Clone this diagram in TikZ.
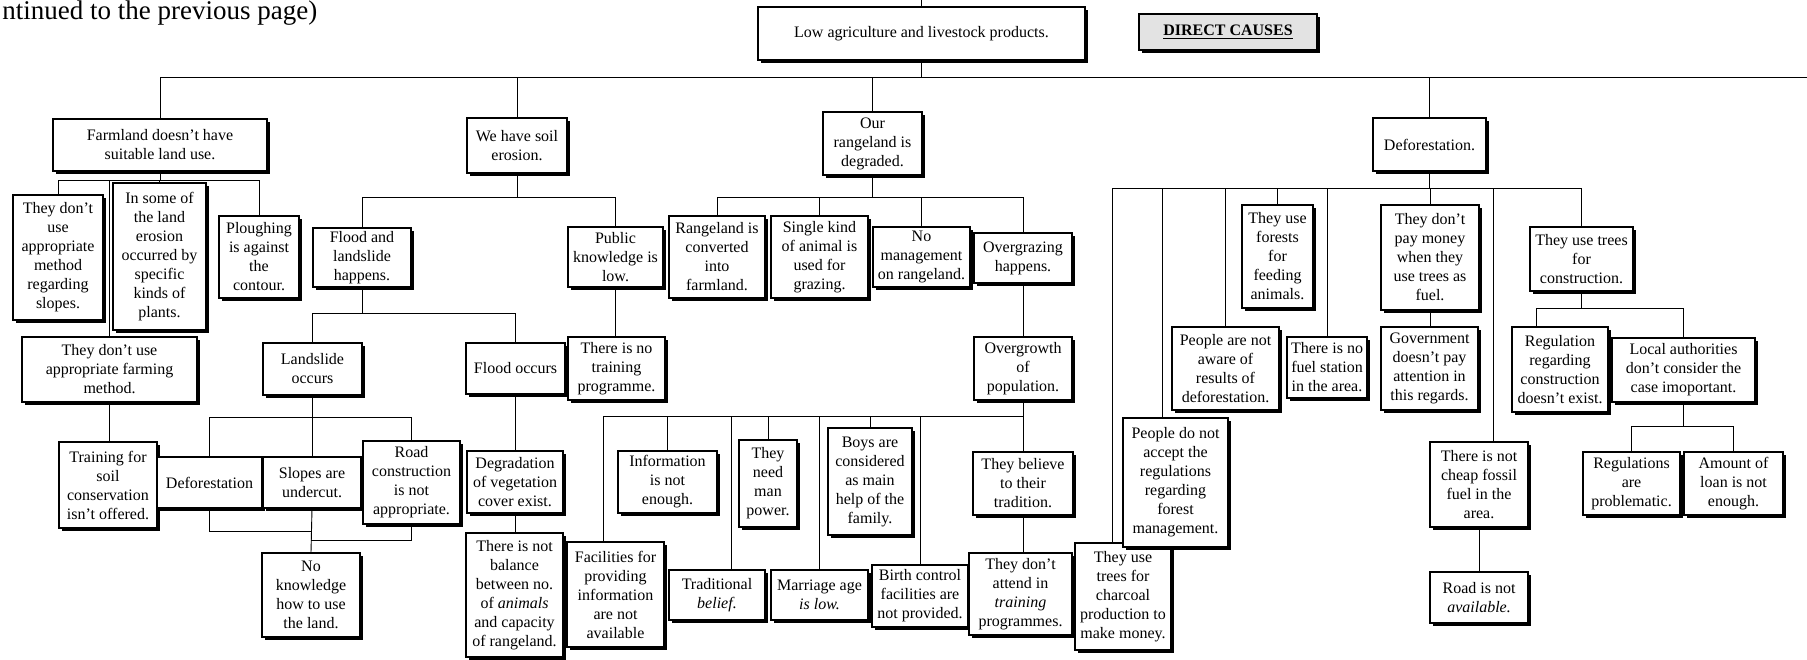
\documentclass[tikz,border=0pt]{standalone}
\usepackage{fontspec}
\setmainfont{Liberation Serif}
\usetikzlibrary{shadows,backgrounds}
\newcommand\fs{\fontsize{8pt}{9.5pt}\selectfont}
\tikzset{
  box/.style={draw, line width=0.6pt, fill=white, align=center, inner sep=0pt, font=\fs,
    drop shadow={shadow xshift=1.5pt, shadow yshift=-1.5pt, fill=black, opacity=1}},
  ln/.style={line width=0.45pt},
}
\newcommand\bx[6]{%
  \pgfmathsetmacro\bxw{(#4-#2)*0.5}%
  \pgfmathsetmacro\bxh{(#5-#3)*0.5}%
  \node[box, minimum width=\bxw pt, minimum height=\bxh pt] (#1) at ({(#2+#4)/2},{(#3+#5)/2}) {#6};}
\begin{document}
\begin{tikzpicture}[x=0.5pt,y=-0.5pt]
\useasboundingbox (0,0) rectangle (1807,659);
\node[anchor=base west, inner sep=0pt, font=\fontsize{13.5pt}{16pt}\selectfont] (hdr) at (2,19) {ntinued to the previous page)};
% level y coordinates
\coordinate (cont) at (921,0);
\coordinate (busR) at (1807,77);
\coordinate (yF) at (0,180);
\coordinate (yS) at (0,197);
\coordinate (yFL) at (0,313);
\coordinate (yL) at (0,417);
\coordinate (yB1) at (0,531);
\coordinate (yB2) at (0,540);
\coordinate (yO) at (0,416);
\coordinate (yD) at (0,188);
\coordinate (yC) at (0,308);
\coordinate (yLo) at (0,426);
% boxes
\bx{top}{758}{7}{1085}{60}{Low agriculture and livestock products.}
\node[draw, line width=0.6pt, fill=gray!22, inner sep=0pt, minimum width=89pt, minimum height=18pt,
  font=\fs\bfseries, drop shadow={shadow xshift=1.5pt, shadow yshift=-1.5pt, fill=black, opacity=1}]
  (dc) at (1228,32) {\underline{DIRECT CAUSES}};
\bx{farm}{53}{119}{267}{171}{Farmland doesn't have\\suitable land use.}
\bx{slopesA}{13}{195}{103}{320}{They don't\\use\\appropriate\\method\\regarding\\slopes.}
\bx{insome}{113}{183}{206}{330}{In some of\\the land\\erosion\\occurred by\\specific\\kinds of\\plants.}
\bx{plough}{219}{216}{299}{298}{Ploughing\\is against\\the\\contour.}
\bx{farming}{22}{337}{197}{402}{They don't use\\appropriate farming\\method.}
\bx{training}{59}{442}{157}{528}{Training for\\soil\\conservation\\isn't offered.}
\bx{soil}{467}{118}{567}{173}{We have soil\\erosion.}
\bx{floodls}{313}{228}{411}{287}{Flood and\\landslide\\happens.}
\bx{landslide}{263}{343}{362}{395}{Landslide\\occurs}
\bx{defo}{157}{457}{262}{508}{Deforestation}
\bx{slopes}{263}{457}{361}{508}{Slopes are\\undercut.}
\bx{road}{363}{441}{460}{524}{Road\\construction\\is not\\appropriate.}
\bx{noknow}{262}{553}{360}{637}{No\\knowledge\\how to use\\the land.}
\bx{public}{568}{227}{663}{287}{Public\\knowledge is\\low.}
\bx{notrain}{568}{337}{665}{400}{There is no\\training\\programme.}
\bx{flood}{466}{343}{565}{394}{Flood occurs}
\bx{degrad}{467}{451}{563}{513}{Degradation\\of vegetation\\cover exist.}
\bx{balance}{466}{533}{563}{657}{There is not\\balance\\between no.\\of \textit{animals}\\and capacity\\of rangeland.}
\bx{range}{823}{112}{922}{175}{Our\\rangeland is\\degraded.}
\bx{conv}{669}{216}{765}{298}{Rangeland is\\converted\\into\\farmland.}
\bx{single}{771}{216}{868}{298}{Single kind\\of animal is\\used for\\grazing.}
\bx{noman}{873}{227}{970}{287}{No\\management\\on rangeland.}
\bx{overgraz}{974}{233}{1072}{283}{Overgrazing\\happens.}
\bx{overgrow}{974}{337}{1072}{400}{Overgrowth\\of\\population.}
\bx{fac}{567}{542}{664}{647}{Facilities for\\providing\\information\\are not\\available}
\bx{info}{618}{451}{717}{513}{Information\\is not\\enough.}
\bx{trad}{669}{570}{765}{620}{Traditional\\\textit{belief.}}
\bx{manp}{739}{440}{797}{527}{They\\need\\man\\power.}
\bx{marr}{771}{570}{868}{620}{Marriage age\\\textit{is low.}}
\bx{boys}{828}{428}{912}{535}{Boys are\\considered\\as main\\help of the\\family.}
\bx{birth}{872}{565}{968}{627}{Birth control\\facilities are\\not provided.}
\bx{believe}{973}{452}{1073}{515}{They believe\\to their\\tradition.}
\bx{attend}{969}{553}{1072}{635}{They don't\\attend in\\\textit{training}\\programmes.}
\bx{defor}{1373}{118}{1486}{171}{Deforestation.}
\bx{charcoal}{1075}{543}{1171}{650}{They use\\trees for\\charcoal\\production to\\make money.}
\bx{accept}{1123}{418}{1228}{547}{People do not\\accept the\\regulations\\regarding\\forest\\management.}
\bx{aware}{1172}{327}{1279}{410}{People are not\\aware of\\results of\\deforestation.}
\bx{forests}{1242}{205}{1313}{308}{They use\\forests\\for\\feeding\\animals.}
\bx{fuelst}{1287}{337}{1367}{398}{There is no\\fuel station\\in the area.}
\bx{pay}{1381}{205}{1479}{310}{They don't\\pay money\\when they\\use trees as\\fuel.}
\bx{gov}{1381}{327}{1478}{410}{Government\\doesn't pay\\attention in\\this regards.}
\bx{fossil}{1430}{442}{1528}{527}{There is not\\cheap fossil\\fuel in the\\area.}
\bx{roadna}{1430}{572}{1528}{623}{Road is not\\\textit{available.}}
\bx{constr}{1530}{227}{1633}{291}{They use trees\\for\\construction.}
\bx{regc}{1512}{327}{1608}{412}{Regulation\\regarding\\construction\\doesn't exist.}
\bx{local}{1612}{338}{1755}{402}{Local authorities\\don't consider the\\case imoportant.}
\bx{regp}{1583}{452}{1680}{515}{Regulations\\are\\problematic.}
\bx{loan}{1684}{452}{1783}{515}{Amount of\\loan is not\\enough.}
% connectors
\begin{pgfonlayer}{background}
\begin{scope}[ln]
\draw (top.north) -- (top.north |- cont);
\draw (farm.north) |- (busR);
\draw (top.south) -- (top.south |- busR);
\foreach \n in {soil,range,defor} \draw (\n.north) -- (\n.north |- busR);
% farmland
\draw (farm.south) -- (farm.south |- yF);
\foreach \n in {slopesA,insome,plough,farming} \draw (farm.south |- yF) -| (\n.north);
\draw (farming.south) -- (farming.south |- training.north);
% soil erosion
\draw (soil.south) -- (soil.south |- yS);
\foreach \n in {floodls,public} \draw (soil.south |- yS) -| (\n.north);
\draw (floodls.south) -- (floodls.south |- yFL);
\foreach \n in {landslide,flood} \draw (floodls.south |- yFL) -| (\n.north);
\draw (landslide.south) -- (landslide.south |- yL);
\foreach \n in {defo,slopes,road} \draw (landslide.south |- yL) -| (\n.north);
\draw (defo.south) |- (noknow.north |- yB1);
\draw (road.south) |- (noknow.north |- yB2);
\draw (slopes.south) -- (noknow.north);
\draw (flood.south) -- (flood.south |- degrad.north);
\draw (degrad.south) -- (degrad.south |- balance.north);
\draw (public.south) -- (public.south |- notrain.north);
% rangeland
\draw (range.south) -- (range.south |- yS);
\foreach \n in {conv,single,noman,overgraz} \draw (range.south |- yS) -| (\n.north);
\draw (overgraz.south) -- (overgrow.north);
\draw (overgrow.south) -- (overgrow.south |- yO);
\draw (overgrow.south |- yO) -| ([xshift=-6pt]fac.north);
\draw (overgrow.south |- yO) -| ([xshift=7pt]trad.north);
\foreach \n in {info,manp,marr,boys,birth,believe} \draw (overgrow.south |- yO) -| (\n.north);
\draw (believe.south) -- (believe.south |- attend.north);
% deforestation
\draw (defor.south) -- (defor.south |- yD);
\draw (defor.south |- yD) -| ([xshift=-5.5pt]charcoal.north);
\draw (defor.south |- yD) -| ([xshift=-6.5pt]accept.north);
\draw (defor.south |- yD) -| ([xshift=7pt]fossil.north);
\foreach \n in {aware,forests,fuelst,pay,constr} \draw (defor.south |- yD) -| (\n.north);
\draw (pay.south) -- (pay.south |- gov.north);
\draw (fossil.south) -- (roadna.north);
\draw (constr.south) -- (constr.south |- yC);
\draw (constr.south |- yC) -| ([xshift=-12pt]regc.north);
\draw (constr.south |- yC) -| (local.north);
\draw (local.south) -- (local.south |- yLo);
\foreach \n in {regp,loan} \draw (local.south |- yLo) -| (\n.north);
\end{scope}
\end{pgfonlayer}
\end{tikzpicture}
\end{document}
